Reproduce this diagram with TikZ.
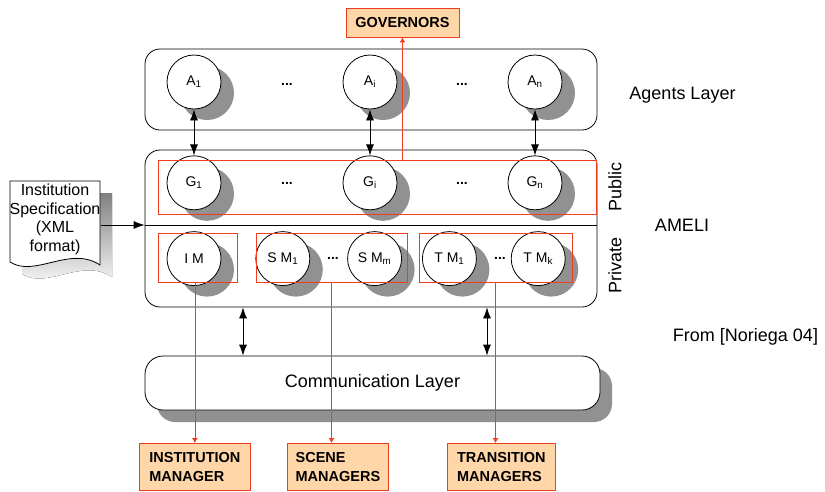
\documentclass[tikz,border=0pt]{standalone}
\usepackage{fontspec}
\setmainfont{Liberation Sans}
\usepackage{tikz}
\usetikzlibrary{positioning}
\usetikzlibrary{shadows,arrows.meta}
\definecolor{linkred}{RGB}{240,62,30}
\definecolor{rolefill}{RGB}{255,214,168}
\definecolor{shade}{RGB}{145,145,145}
\tikzstyle{layer box}=[draw,line width=0.8pt,rounded corners=15pt,inner sep=0pt]
\tikzstyle{agent circle}=[circle,draw,fill=white,line width=0.8pt,minimum size=54pt,inner sep=0pt,font=\fontsize{14}{16}\selectfont,drop shadow={shadow xshift=13pt,shadow yshift=-11pt,fill=shade,opacity=1}]
\tikzstyle{red frame}=[draw=linkred,line width=0.8pt,inner sep=0pt]
\tikzstyle{role box}=[draw=linkred,fill=rolefill,line width=0.8pt,align=left,inner sep=0pt,font=\fontsize{14.5}{19}\selectfont\bfseries]
\tikzstyle{mutual edge}=[{Latex[length=11pt,width=8pt]}-{Latex[length=11pt,width=8pt]},line width=0.8pt]
\tikzstyle{spec edge}=[-{Latex[length=11pt,width=8pt]},line width=0.8pt]
\tikzstyle{role edge}=[-{Latex[length=5pt,width=6pt]},draw=linkred,line width=0.8pt]
\tikzstyle{plain text}=[inner sep=0pt,font=\fontsize{18}{20}\selectfont]
\tikzstyle{gap dots}=[inner sep=0pt,font=\fontsize{14}{16}\selectfont\bfseries]
\newcommand{\agentnode}[3][]{
  \node [agent circle, #1] (#2) {#3}
}
\newcommand{\gapdots}[2]{
  \node [gap dots] (#1) at (#2) {...}
}
\newcommand{\docoutline}{(10,181) -- (100,181) -- (100,265) .. controls (70,245) and (35,278) .. (10,262) -- cycle}
\begin{document}
\begin{tikzpicture}[x=1pt,y=-1pt]
        \useasboundingbox (0,0) rectangle (825,491);
        % layers
        \node [layer box, minimum width=452pt, minimum height=81pt] (agents) at (371,89.5) {};
        \node [layer box, minimum width=452pt, minimum height=157pt] (ameli) at (371,228.5) {};
        \coordinate (sep) at (0,225);
        \draw[line width=0.8pt] (ameli.west |- sep) -- (ameli.east |- sep);
        \node [layer box, rounded corners=18pt, fill=white, minimum width=455pt, minimum height=54pt,
               font=\fontsize{18}{20}\selectfont,
               drop shadow={shadow xshift=12pt,shadow yshift=-12pt,fill=shade,opacity=1}] (comm) at (372.5,383) {Communication Layer};

        % specification document
        \fill[shade, shift={(12,12)}] \docoutline;
        \draw[fill=white, line width=0.8pt] \docoutline;
        \node [minimum width=90pt, minimum height=81pt, inner sep=0pt, align=center,
               font=\fontsize{16}{18.7}\selectfont] (spec) at (55,219.5) {Institution\\Specification\\(XML\\format)};

        % agents and governors
        \agentnode[at={(194,82)}]{a1}{A\textsubscript{1}};
        \agentnode[at={(370,82)}]{ai}{A\textsubscript{i}};
        \agentnode[at={(535,82)}]{an}{A\textsubscript{n}};
        \agentnode[below=46pt of a1]{g1}{G\textsubscript{1}};
        \agentnode[below=46pt of ai]{gi}{G\textsubscript{i}};
        \agentnode[below=46pt of an]{gn}{G\textsubscript{n}};
        \gapdots{adots1}{287,84};
        \gapdots{adots2}{462,84};
        \gapdots{gdots1}{287,183};
        \gapdots{gdots2}{462,183};

        % private managers
        \agentnode[below=21pt of g1]{im}{I M};
        \agentnode[right=34pt of im]{sm1}{S M\textsubscript{1}};
        \agentnode[right=37pt of sm1]{smm}{S M\textsubscript{m}};
        \agentnode[right=20pt of smm]{tm1}{T M\textsubscript{1}};
        \agentnode[right=34pt of tm1]{tmk}{T M\textsubscript{k}};
        \gapdots{smdots}{333,258};
        \gapdots{tmdots}{500,258};

        \node [red frame, minimum width=438pt, minimum height=54pt] (pubframe) at (377,187) {};
        \node [red frame, minimum width=79pt, minimum height=49pt] (imframe) at (197.5,257.5) {};
        \node [red frame, minimum width=151pt, minimum height=49pt] (smframe) at (331.5,257.5) {};
        \node [red frame, minimum width=153pt, minimum height=49pt] (tmframe) at (495.5,257.5) {};

        \node [plain text, rotate=90] (public) at (615,187) {Public};
        \node [plain text, rotate=90] (private) at (615,265) {Private};
        \node [plain text] (agentslabel) at (682.5,95) {Agents Layer};
        \node [plain text] (amelilabel) at (682,225) {AMELI};
        \node [plain text] (source) at (745.5,337) {From [Noriega 04]};

        % role boxes
        \node [role box, minimum width=113pt, minimum height=29pt] (gov) at (402.5,22.5) {GOVERNORS};
        \node [role box, minimum width=111pt, minimum height=47pt, anchor=north west] (imbox) at (139,443) {INSTITUTION\\MANAGER};
        \node [role box, minimum width=101pt, minimum height=47pt, anchor=north west] (scenebox) at (287,443) {SCENE\\MANAGERS};
        \node [role box, minimum width=108pt, minimum height=47pt, anchor=north west] (transbox) at (447,443) {TRANSITION\\MANAGERS};

        \coordinate (lnk1) at (243,0);
        \coordinate (lnk2) at (487,0);

            \draw[mutual edge] (a1) -- (g1);
            \draw[mutual edge] (ai) -- (gi);
            \draw[mutual edge] (an) -- (gn);
            \draw[mutual edge] (ameli.south -| lnk1) -- (comm.north -| lnk1);
            \draw[mutual edge] (ameli.south -| lnk2) -- (comm.north -| lnk2);
            \draw[spec edge] (spec.east |- sep) -- (ameli.west |- sep);

            \draw[role edge] (gov.south |- pubframe.north) -- (gov.south);
            \draw[role edge] (imbox.north |- imframe.south) -- (imbox.north);
            \draw[role edge] (smframe.south) -- (smframe.south |- scenebox.north);
            \draw[role edge] (tmframe.south) -- (tmframe.south |- transbox.north);
\end{tikzpicture}
\end{document}
